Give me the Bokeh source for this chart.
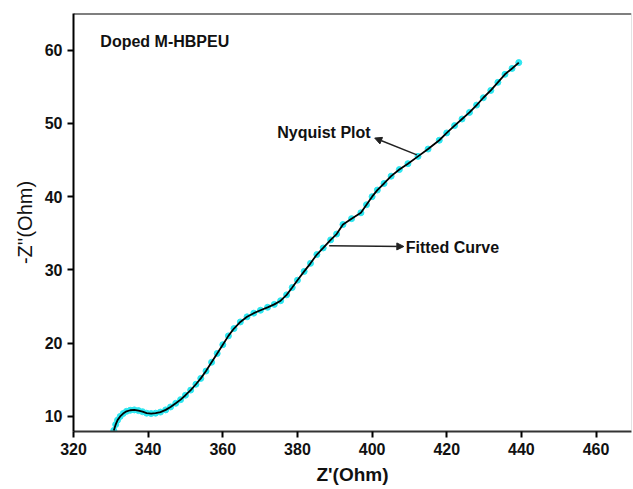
from bokeh.plotting import figure
from bokeh.models import Label, Arrow, NormalHead, Span, FixedTicker
from bokeh.embed import file_html
from bokeh.resources import INLINE

# Nyquist data: Z' (Ohm) and -Z'' (Ohm)
z_real = [330.8, 331.3, 331.8, 332.5, 333.3, 334.2, 335.2, 336.3, 337.4, 338.5,
          339.6, 340.8, 342.0, 343.3, 344.7, 346.0, 347.4, 348.7, 350.0, 351.4,
          352.8, 354.1, 355.5, 357.0, 358.5, 360.0, 361.5, 363.0, 364.7, 366.5,
          368.3, 370.1, 372.0, 373.8, 375.5, 377.1, 378.6, 380.0, 381.8, 383.5,
          385.2, 386.9, 388.9, 390.5, 392.2, 394.5, 397.0, 398.5, 400.0, 401.4,
          403.2, 405.1, 407.3, 409.6, 412.3, 415.0, 418.0, 420.0, 422.1, 424.1,
          426.1, 428.0, 429.8, 431.8, 433.7, 435.6, 437.5, 439.3]
z_imag = [8.1, 8.9, 9.5, 10.0, 10.4, 10.7, 10.85, 10.9, 10.8, 10.65,
          10.45, 10.4, 10.45, 10.6, 10.9, 11.3, 11.8, 12.3, 12.9, 13.6,
          14.4, 15.2, 16.2, 17.4, 18.6, 19.8, 21.0, 22.0, 22.9, 23.6,
          24.1, 24.5, 24.9, 25.3, 25.8, 26.6, 27.6, 28.6, 29.8, 30.9,
          32.1, 33.0, 34.1, 34.9, 36.2, 37.0, 37.8, 38.9, 40.0, 40.9,
          41.8, 42.8, 43.7, 44.5, 45.5, 46.5, 47.7, 48.7, 49.7, 50.6,
          51.5, 52.5, 53.5, 54.5, 55.6, 56.7, 57.5, 58.3]

x_ticks = [320, 340, 360, 380, 400, 420, 440, 460]
y_ticks = [10, 20, 30, 40, 50, 60]

FONT = "Liberation Sans"

p = figure(width=632, height=488, output_backend="svg", toolbar_location=None,
           x_range=(320, 469.5), y_range=(7.95, 65),
           min_border_left=73, min_border_top=13, min_border_right=1, min_border_bottom=57)
p.grid.visible = False
p.outline_line_color = None
p.background_fill_color = "white"
p.border_fill_color = "white"

# Nyquist plot points and fitted curve
p.scatter(z_real, z_imag, size=6, color="#2ee6f0", line_color="#2ee6f0")
p.line(z_real, z_imag, line_color="black", line_width=1.8)

# frame top / right
p.add_layout(Span(location=65, dimension="width", line_color="black", line_width=2))
p.add_layout(Span(location=469.5, dimension="height", line_color="#c8c8c8", line_width=1))

for ax in (p.xaxis[0], p.yaxis[0]):
    ax.axis_line_color = "black"
    ax.axis_line_width = 2
    ax.major_tick_line_color = "black"
    ax.major_tick_line_width = 2
    ax.major_tick_out = 6
    ax.major_tick_in = 0
    ax.minor_tick_line_color = None
    ax.major_label_text_font = FONT
    ax.major_label_text_font_style = "bold"
    ax.major_label_text_font_size = "16px"
    ax.major_label_text_color = "#111111"
    ax.major_label_standoff = 5
    ax.axis_label_text_font = FONT
    ax.axis_label_text_color = "#111111"

p.xaxis[0].ticker = FixedTicker(ticks=x_ticks)
p.yaxis[0].ticker = FixedTicker(ticks=y_ticks)
p.xaxis[0].axis_line_color = "#333333"
p.xaxis[0].axis_label = "Z'(Ohm)"
p.xaxis[0].axis_label_text_font_style = "bold"
p.xaxis[0].axis_label_text_font_size = "19px"
p.xaxis[0].axis_label_standoff = 6
p.yaxis[0].axis_label = "-Z''(Ohm)"
p.yaxis[0].axis_label_text_font_style = "normal"
p.yaxis[0].axis_label_text_font_size = "20px"
p.yaxis[0].axis_label_standoff = 6

p.add_layout(Label(x=327.2, y=61.2, text="Doped M-HBPEU", text_font=FONT,
                   text_font_style="bold", text_font_size="16px", text_baseline="middle",
                   text_color="#111111"))
p.add_layout(Label(x=399.6, y=48.8, text="Nyquist Plot", text_font=FONT,
                   text_font_style="bold", text_font_size="16px", text_baseline="middle",
                   text_align="right", text_color="#111111"))
p.add_layout(Label(x=409.0, y=33.1, text="Fitted Curve", text_font=FONT,
                   text_font_style="bold", text_font_size="16px", text_baseline="middle",
                   text_align="left", text_color="#111111"))

p.add_layout(Arrow(x_start=412.0, y_start=45.7, x_end=400.7, y_end=48.0,
                   line_color="#222222", line_width=1.5,
                   end=NormalHead(size=7, fill_color="#222222", line_color="#222222")))
p.add_layout(Arrow(x_start=388.5, y_start=33.3, x_end=408.5, y_end=33.2,
                   line_color="#222222", line_width=1.5,
                   end=NormalHead(size=7, fill_color="#222222", line_color="#222222")))

open("out.html", "w").write(file_html(p, INLINE))
